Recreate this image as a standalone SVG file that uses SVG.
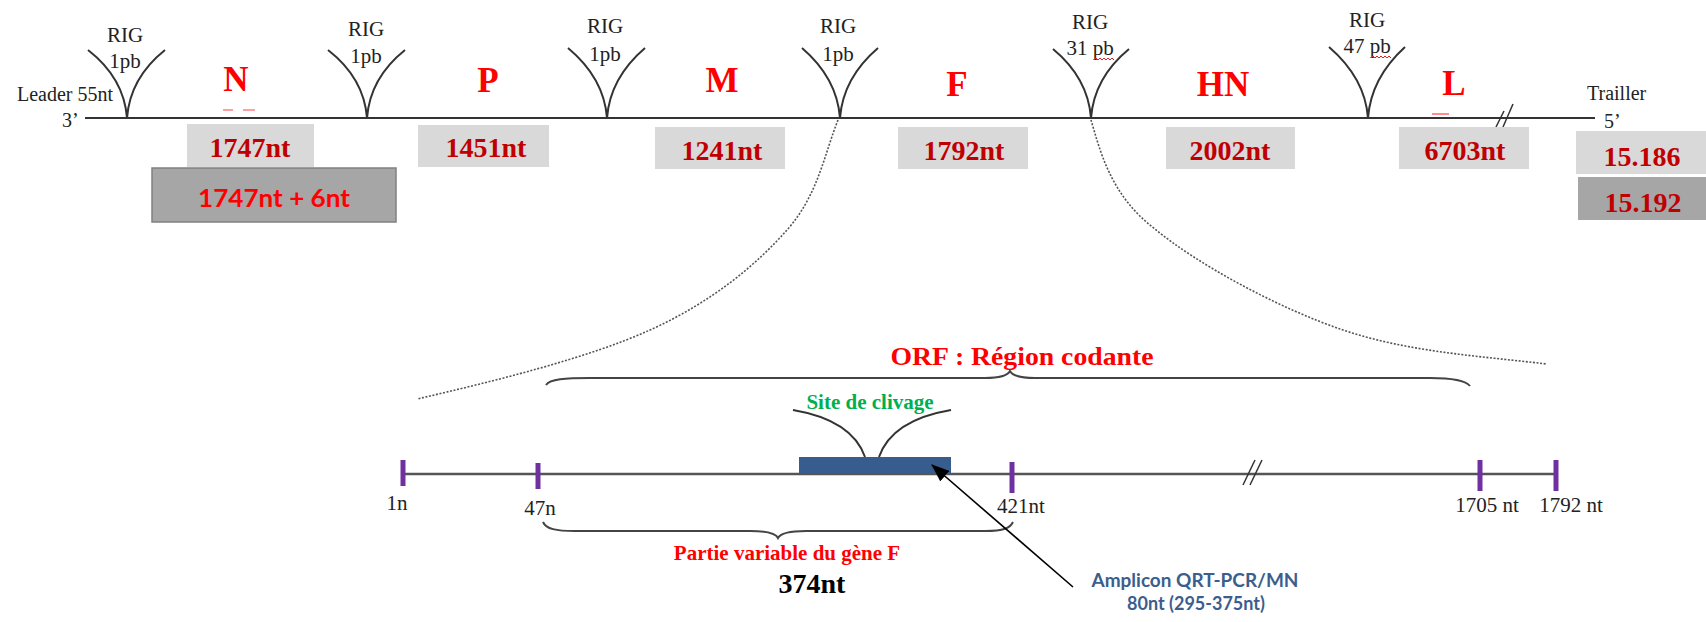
<svg xmlns="http://www.w3.org/2000/svg" width="1706" height="622" viewBox="0 0 1706 622">
<style>
.serif{font-family:"Liberation Serif","Times New Roman",serif}
.rig{font-family:"Liberation Serif",serif;font-size:21px;fill:#222;text-anchor:middle}
.gene{font-family:"Liberation Serif",serif;font-size:35px;font-weight:bold;fill:#ff0000;text-anchor:middle}
.len{font-family:"Liberation Serif",serif;font-size:28px;font-weight:bold;fill:#c00000;text-anchor:middle}
.box{fill:#d9d9d9}
.dbox{fill:#a6a6a6;stroke:#808080;stroke-width:1.5}
.arm{fill:none;stroke:#333;stroke-width:2}
.dot{fill:none;stroke:#555;stroke-width:1.6;stroke-dasharray:2 1.6}
.brace{fill:none;stroke:#444;stroke-width:2}
.tick{stroke:#7030a0;stroke-width:5}
.pos{font-family:"Liberation Serif",serif;font-size:21px;fill:#222;text-anchor:middle}
.wavy{fill:none;stroke:#e02020;stroke-width:1}
</style>
<defs>
<marker id="ah" markerWidth="18" markerHeight="14" refX="17" refY="7" orient="auto" markerUnits="userSpaceOnUse" viewBox="0 0 18 14">
<path d="M0,0 L18,7 L0,14 z" fill="#000"/>
</marker>
</defs>

<g id="genome-line">
<line x1="85" y1="118" x2="1595" y2="118" stroke="#333" stroke-width="2"/>
<line x1="1496" y1="127" x2="1504" y2="111" stroke="#333" stroke-width="1.5"/>
<line x1="1503" y1="127" x2="1513" y2="104" stroke="#333" stroke-width="1.5"/>
<text class="serif" x="17" y="101" font-size="20" fill="#222">Leader 55nt</text>
<text class="serif" x="62" y="127" font-size="20" fill="#222">3’</text>
<text class="serif" x="1587" y="100" font-size="20" fill="#222">Trailler</text>
<text class="serif" x="1604" y="128" font-size="20" fill="#222">5’</text>
</g>

<g id="rig1">
<path class="arm" d="M88,50 Q124,78 127,118 M165,50 Q130,78 127,118"/>
<text class="rig" x="125" y="42">RIG</text>
<text class="rig" x="125" y="68">1pb</text>
</g>
<g id="rig2">
<path class="arm" d="M328,50 Q364,78 367,118 M405,50 Q370,78 367,118"/>
<text class="rig" x="366" y="36">RIG</text>
<text class="rig" x="366" y="63">1pb</text>
</g>
<g id="rig3">
<path class="arm" d="M568,48 Q604,78 607,118 M645,48 Q610,78 607,118"/>
<text class="rig" x="605" y="33">RIG</text>
<text class="rig" x="605" y="61">1pb</text>
</g>
<g id="rig4">
<path class="arm" d="M802,48 Q837,78 840,118 M878,48 Q843,78 840,118"/>
<text class="rig" x="838" y="33">RIG</text>
<text class="rig" x="838" y="61">1pb</text>
</g>
<g id="rig5">
<path class="arm" d="M1053,49 Q1088,78 1091,118 M1129,49 Q1094,78 1091,118"/>
<text class="rig" x="1090" y="29">RIG</text>
<text class="rig" x="1090" y="55">31 pb</text>
<path class="wavy" d="M1094,60 l2,-2 l2,2 l2,-2 l2,2 l2,-2 l2,2 l2,-2 l2,2 l2,-2 l2,2"/>
</g>
<g id="rig6">
<path class="arm" d="M1329,47 Q1365,78 1368,118 M1405,47 Q1371,78 1368,118"/>
<text class="rig" x="1367" y="27">RIG</text>
<text class="rig" x="1367" y="53">47 pb</text>
<path class="wavy" d="M1371,58 l2,-2 l2,2 l2,-2 l2,2 l2,-2 l2,2 l2,-2 l2,2 l2,-2 l2,2"/>
</g>

<g id="gene-N">
<text class="gene" x="236" y="91">N</text>
<line x1="223" y1="110" x2="233" y2="110" stroke="#ff6060" stroke-width="1.2"/>
<line x1="243" y1="110" x2="255" y2="110" stroke="#ff6060" stroke-width="1.2"/>
<rect class="box" x="187" y="124" width="127" height="43"/>
<text class="len" x="250" y="157">1747nt</text>
<rect class="dbox" x="152" y="168" width="244" height="54"/>
<text x="274" y="207" font-family="Lato,'Liberation Sans',sans-serif" font-size="24" font-weight="bold" fill="#ff0000" text-anchor="middle" textLength="152" lengthAdjust="spacingAndGlyphs">1747nt + 6nt</text>
</g>
<g id="gene-P">
<text class="gene" x="488" y="92">P</text>
<rect class="box" x="418" y="125" width="131" height="42"/>
<text class="len" x="486" y="157">1451nt</text>
</g>
<g id="gene-M">
<text class="gene" x="722" y="92">M</text>
<rect class="box" x="655" y="127" width="130" height="42"/>
<text class="len" x="722" y="160">1241nt</text>
</g>
<g id="gene-F">
<text class="gene" x="957" y="96">F</text>
<rect class="box" x="898" y="127" width="130" height="42"/>
<text class="len" x="964" y="160">1792nt</text>
</g>
<g id="gene-HN">
<text class="gene" x="1223" y="96">HN</text>
<rect class="box" x="1166" y="127" width="129" height="42"/>
<text class="len" x="1230" y="160">2002nt</text>
</g>
<g id="gene-L">
<text class="gene" x="1454" y="95">L</text>
<line x1="1432" y1="114" x2="1449" y2="114" stroke="#ff4040" stroke-width="1.2"/>
<rect class="box" x="1399" y="127" width="130" height="42"/>
<text class="len" x="1465" y="160">6703nt</text>
</g>
<g id="total">
<rect class="box" x="1576" y="131" width="130" height="43"/>
<text class="len" x="1642" y="166">15.186</text>
<rect x="1578" y="177" width="128" height="43" fill="#a6a6a6"/>
<text class="len" x="1643" y="212">15.192</text>
</g>

<g id="orf">
<text x="1022" y="365" font-family="'Liberation Serif',serif" font-size="25" font-weight="bold" fill="#ff0000" text-anchor="middle" textLength="263" lengthAdjust="spacingAndGlyphs">ORF : Région codante</text>
<path class="brace" d="M546,385 C550,379 565,378 590,378 L985,378 C1000,378 1008,375 1010,371 C1012,375 1020,378 1035,378 L1430,378 C1455,378 1466,381 1470,386"/>
</g>

<g id="f-gene-line">
<line x1="403" y1="474" x2="1557" y2="474" stroke="#555" stroke-width="2.5"/>
<line x1="1243" y1="485" x2="1255" y2="460" stroke="#333" stroke-width="1.5"/>
<line x1="1250" y1="485" x2="1262" y2="460" stroke="#333" stroke-width="1.5"/>
<line class="tick" x1="403" y1="460" x2="403" y2="486"/>
<line class="tick" x1="538" y1="463" x2="538" y2="489"/>
<line class="tick" x1="1012" y1="462" x2="1012" y2="493"/>
<line class="tick" x1="1480" y1="460" x2="1480" y2="491"/>
<line class="tick" x1="1556" y1="460" x2="1556" y2="491"/>
<text class="pos" x="397" y="510">1n</text>
<text class="pos" x="540" y="515">47n</text>
<text class="pos" x="1021" y="513">421nt</text>
<text class="pos" x="1487" y="512">1705 nt</text>
<text class="pos" x="1571" y="512">1792 nt</text>
</g>

<g id="cleavage-site">
<path class="arm" d="M793,410 Q852,420 865,457 M951,410 Q892,420 879,457"/>
<text x="870" y="409" font-family="'Liberation Serif',serif" font-size="21" font-weight="bold" fill="#00b050" text-anchor="middle">Site de clivage</text>
</g>

<g id="amplicon">
<rect x="799" y="457" width="152" height="16" fill="#375d8f"/>
<text x="1195" y="587" font-family="Lato,'Liberation Sans',sans-serif" font-size="18" font-weight="bold" fill="#3b5e8c" text-anchor="middle" textLength="207" lengthAdjust="spacingAndGlyphs">Amplicon QRT-PCR/MN</text>
<text x="1196" y="610" font-family="Lato,'Liberation Sans',sans-serif" font-size="18" font-weight="bold" fill="#3b5e8c" text-anchor="middle">80nt (295-375nt)</text>
</g>

<g id="variable-part">
<path class="brace" d="M543,522 C546,529 556,531 575,531 L750,531 C768,531 776,534 778,538 C780,534 788,531 806,531 L985,531 C1004,531 1010,528 1013,522"/>
<text x="787" y="560" font-family="'Liberation Serif',serif" font-size="21" font-weight="bold" fill="#ff0000" text-anchor="middle">Partie variable du gène F</text>
<text x="812" y="593" font-family="'Liberation Serif',serif" font-size="28" font-weight="bold" fill="#000" text-anchor="middle">374nt</text>
</g>

<g id="connectors">
<path class="dot" d="M838,120 C824,155 818,195 787,230 C756,265 712,302 650,330 C588,358 495,381 417,399"/>
<path class="dot" d="M1091,120 C1100,150 1110,195 1155,229 C1197,264 1278,308 1343,330 C1408,352 1479,356 1547,364"/>
<line x1="1073" y1="587" x2="932" y2="465" stroke="#000" stroke-width="1.6" marker-end="url(#ah)"/>
</g>
</svg>
